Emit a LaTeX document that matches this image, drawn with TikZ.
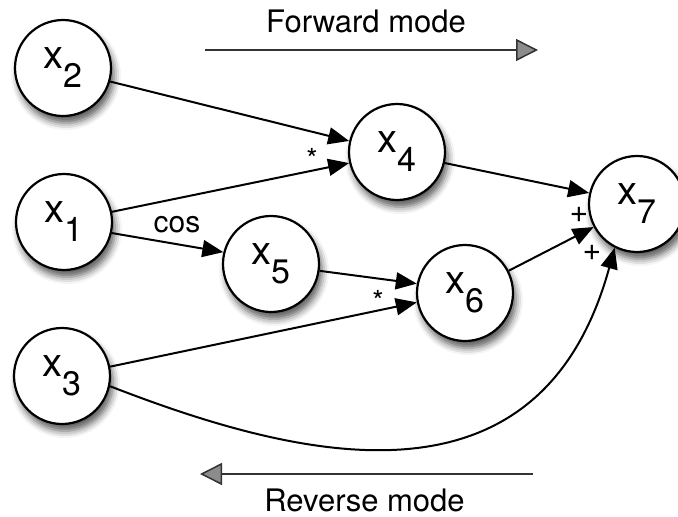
\documentclass[tikz,border=0pt]{standalone}
\usepackage{fontspec}
\setmainfont{TeX Gyre Heros}
\usetikzlibrary{arrows.meta,shadows.blur}
\newcommand\xvar[1]{{\fontsize{40}{42}\selectfont x}\raisebox{-19pt}{\fontsize{34}{36}\selectfont #1}}
\begin{document}
\begin{tikzpicture}[x=1pt,y=-1pt,
  var/.style={circle,draw=black,line width=2.2pt,fill=white,minimum size=96pt,inner sep=0pt,
    blur shadow={shadow xshift=3pt,shadow yshift=-7pt,shadow blur radius=7pt,shadow opacity=65}},
  edge/.style={line width=2pt,-{Triangle[length=21pt,width=17pt]}},
  mode/.style={line width=2.6pt,draw=black!80,-{Triangle[length=22pt,width=22pt,fill=black!45,line width=1.5pt]}},
  lbl/.style={font=\fontsize{30}{32}\selectfont,inner sep=0pt}]
\useasboundingbox (0,0) rectangle (678,517);
\node[var] (x2) at (63,68) {\xvar{2}};
\node[var] (x1) at (64,222) {\xvar{1}};
\node[var] (x3) at (62,376) {\xvar{3}};
\node[var] (x4) at (397,152) {\xvar{4}};
\node[var] (x5) at (271,264) {\xvar{5}};
\node[var] (x6) at (465,293) {\xvar{6}};
\node[var] (x7) at (637,204) {\xvar{7}};
\draw[edge] (x2.-16) -- (x4.167);
\draw[edge] (x1.12) -- (x4.193);
\draw[edge] (x1.-13) -- (x5.166);
\draw[edge] (x5.-8) -- (x6.169);
\draw[edge] (x3.11) -- (x6.191);
\draw[edge] (x4.-13) -- (x7.167);
\draw[edge] (x6.27) -- (x7.208);
\draw[edge] (x3.-12) .. controls (300,460) and (540,520) .. (x7.243);
\node[lbl,font=\fontsize{29}{30}\selectfont] (m1) at (312,159) {*};
\node[lbl,font=\fontsize{29}{30}\selectfont] (m2) at (378,301) {*};
\node[lbl] (cos) at (177,225) {cos};
\node[lbl,font=\fontsize{32}{34}\selectfont] (p1) at (579,215) {+};
\node[lbl,font=\fontsize{32}{34}\selectfont] (p2) at (592,253) {+};
\node[anchor=base,inner sep=0pt,font=\fontsize{31}{33}\selectfont] (fw) at (366,32) {Forward mode};
\node[anchor=base,inner sep=0pt,font=\fontsize{31}{33}\selectfont] (rv) at (364.5,511) {Reverse mode};
\coordinate (fa) at (205,50);
\coordinate (fb) at (538,50);
\coordinate (ra) at (533,474);
\coordinate (rb) at (200,474);
\draw[mode] (fa) -- (fb);
\draw[mode] (ra) -- (rb);
\end{tikzpicture}
\end{document}
